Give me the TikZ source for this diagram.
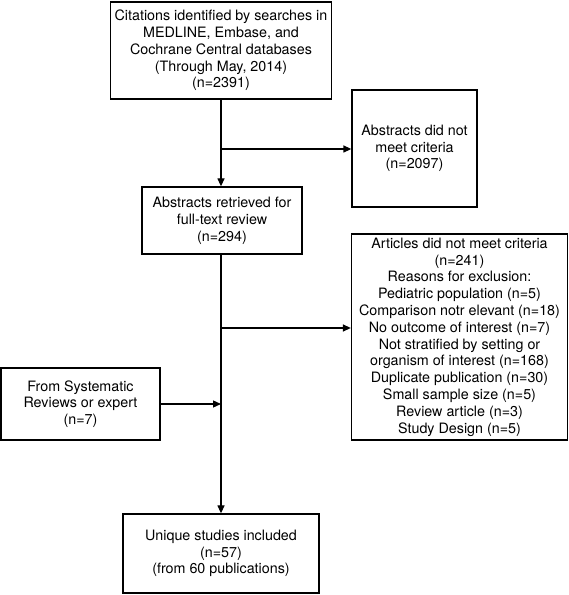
\documentclass[tikz,border=0pt]{standalone}
\usepackage{fontspec}
\setmainfont{TeX Gyre Heros}
\usetikzlibrary{arrows.meta}
\begin{document}
\begin{tikzpicture}[x=1pt,y=1pt,
  box/.style={draw, line width=1.3pt, align=center, inner sep=1pt,
    font=\fontsize{14.3}{16.8}\selectfont},
  conn/.style={line width=1.3pt},
  arr/.style={conn, -{Triangle[length=8pt,width=7pt]}}]
\useasboundingbox (0,0) rectangle (569,595);
\node[box, minimum width=221pt, minimum height=97pt] (b1) at (221,544.5)
  {Citations identified by searches in\\MEDLINE, Embase, and\\Cochrane Central databases\\(Through May, 2014)\\(n=2391)};
\node[box, minimum width=125pt, minimum height=117pt] (b2) at (414.5,446.5)
  {Abstracts did not\\meet criteria\\(n=2097)};
\node[box, minimum width=160pt, minimum height=67pt] (b3) at (222,374.5)
  {Abstracts retrieved for\\full-text review\\(n=294)};
\node[box, minimum width=216pt, minimum height=206pt] (b4) at (459.5,258)
  {Articles did not meet criteria\\(n=241)\\Reasons for exclusion:\\Pediatric population (n=5)\\Comparison notr elevant (n=18)\\No outcome of interest (n=7)\\Not stratified by setting or\\organism of interest (n=168)\\Duplicate publication (n=30)\\Small sample size (n=5)\\Review article (n=3)\\Study Design (n=5)};
\node[box, minimum width=159pt, minimum height=72pt] (b5) at (80.5,191)
  {From Systematic\\Reviews or expert\\(n=7)};
\node[box, minimum width=196pt, minimum height=79pt] (b6) at (221,41.5)
  {Unique studies included\\(n=57)\\(from 60 publications)};
\coordinate (j1) at (221,446);
\coordinate (j2) at (221,267);
\coordinate (j3) at (221,191);
\draw[arr] (b1.south -| j1) -- (b3.north -| j1);
\draw[arr] (j1) -- (j1 -| b2.west);
\draw[arr] (b3.south -| j1) -- (b6.north -| j1);
\draw[arr] (j2) -- (j2 -| b4.west);
\draw[arr] (b5.east) -- (j3);
\end{tikzpicture}
\end{document}
